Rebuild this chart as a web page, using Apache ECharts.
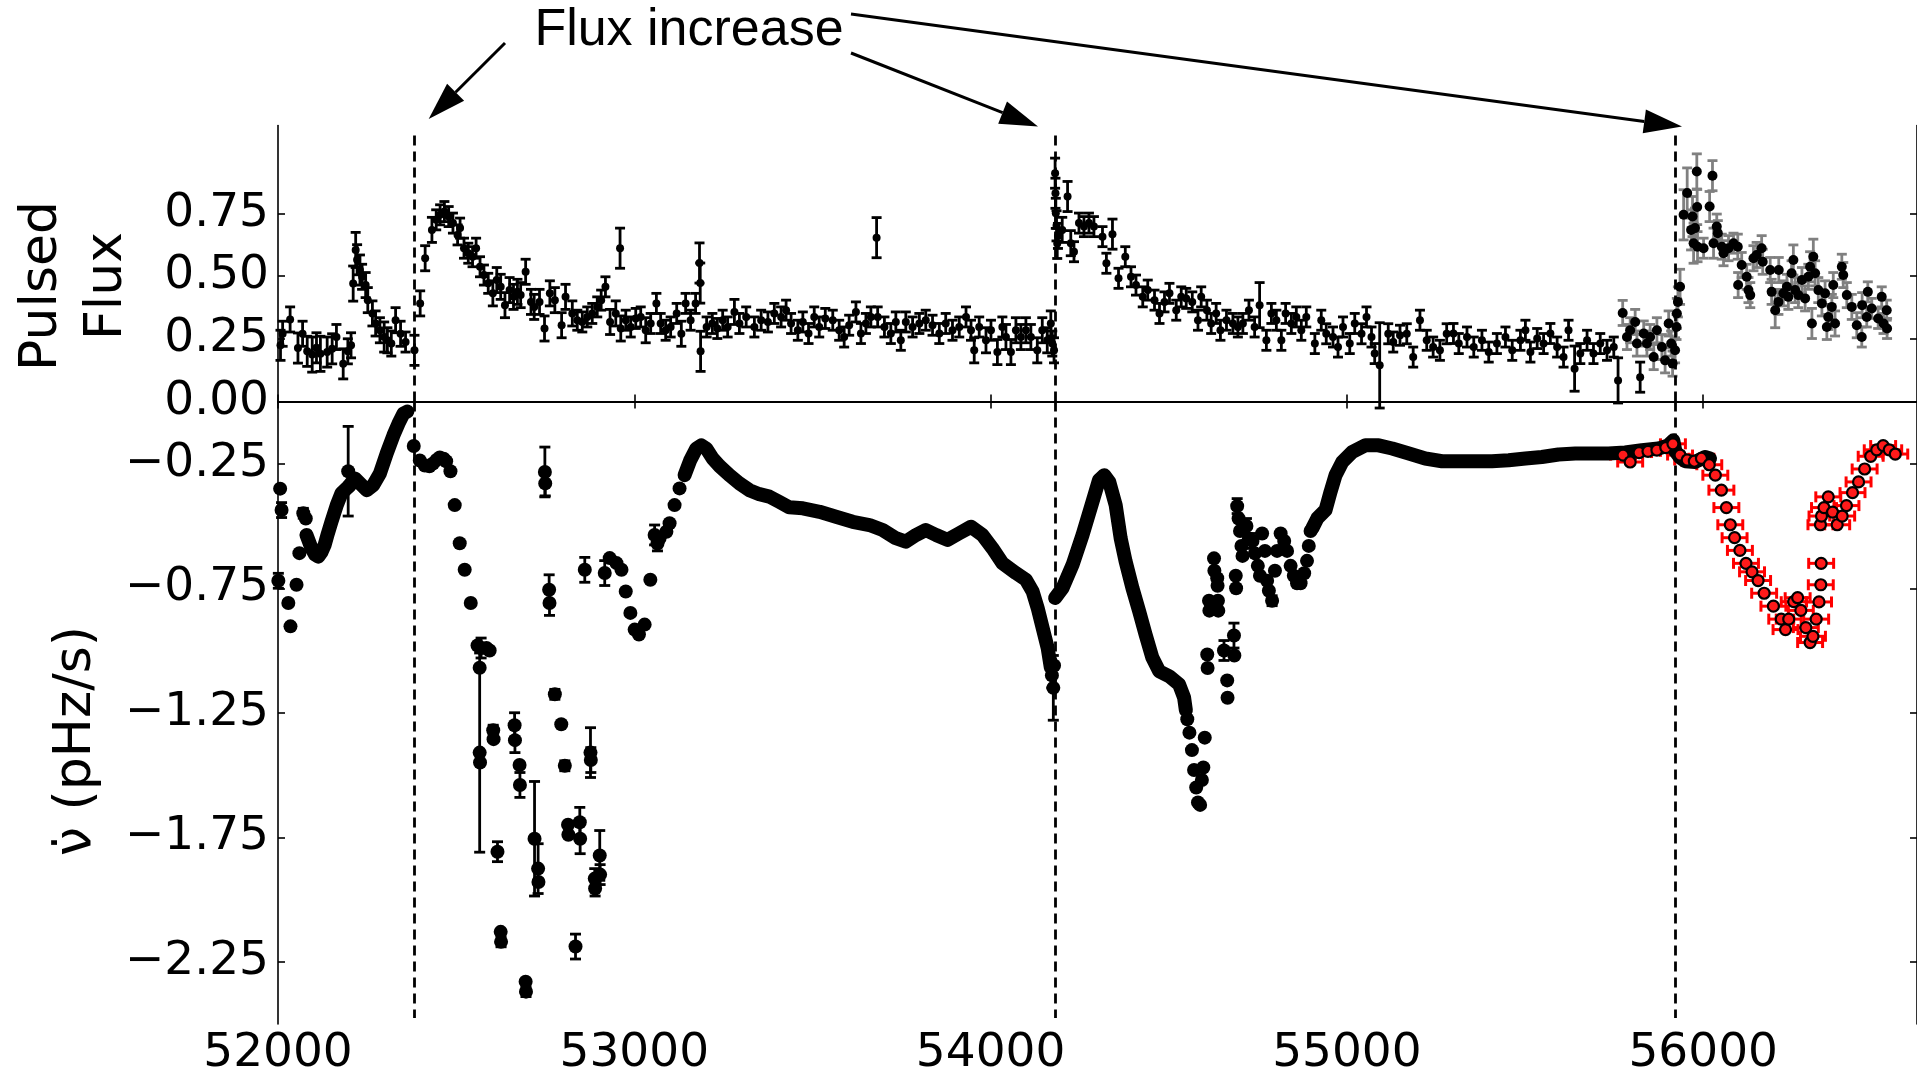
<!DOCTYPE html>
<html><head><meta charset="utf-8">
<script src="https://cdn.jsdelivr.net/npm/echarts@6/dist/echarts.min.js"></script>
<style>html,body{margin:0;padding:0;background:#fff;}#c{width:1917px;height:1077px;}</style>
</head><body><div id="c"></div>
<script>
// ---------- tick values ----------
const xTicks = [52000, 53000, 54000, 55000, 56000];
const fluxTicks = [0, 0.25, 0.5, 0.75];
const nudotTicks = [-0.25, -0.75, -1.25, -1.75, -2.25];
// flux increase epochs (MJD)
const glitchMJD = [52383, 54181, 55921];

// ---------- Pulsed flux, black error bars: [MJD, flux, err] ----------
const fluxA = [
[52007,0.224,0.06],[52013,0.27,0.05],[52034,0.327,0.05],[52056,0.213,0.06],[52069,0.27,0.05],[52082,0.2,0.06],[52096,0.187,0.07],[52108,0.214,0.06],[52119,0.19,0.07],[52138,0.197,0.06],[52152,0.21,0.06],[52164,0.257,0.05],[52183,0.15,0.06],[52196,0.2,0.05],[52205,0.224,0.05],[52211,0.47,0.07],[52218,0.604,0.07],[52222,0.565,0.06],[52230,0.524,0.06],[52236,0.497,0.05],[52246,0.464,0.05],[52252,0.404,0.05],[52265,0.351,0.05],[52274,0.311,0.05],[52286,0.284,0.05],[52298,0.257,0.06],[52307,0.244,0.05],[52318,0.231,0.05],[52330,0.324,0.05],[52344,0.27,0.05],[52358,0.237,0.04],[52383,0.204,0.06],
[52399,0.391,0.05],[52413,0.571,0.05],[52432,0.684,0.05],[52444,0.724,0.04],[52455,0.744,0.04],[52467,0.757,0.04],[52479,0.737,0.04],[52491,0.711,0.04],[52504,0.664,0.04],[52511,0.691,0.04],[52522,0.611,0.04],[52534,0.591,0.04],[52546,0.577,0.04],[52556,0.611,0.04],[52567,0.537,0.04],[52578,0.504,0.04],[52590,0.471,0.04],[52603,0.431,0.05],[52614,0.484,0.05],[52625,0.457,0.05],[52637,0.384,0.05],[52650,0.444,0.05],[52661,0.417,0.05],[52672,0.437,0.05],[52681,0.424,0.05],[52695,0.517,0.05],[52710,0.397,0.05],[52719,0.377,0.05],[52734,0.397,0.05],[52748,0.291,0.05],[52763,0.431,0.05],[52777,0.404,0.05],[52796,0.304,0.05],[52807,0.417,0.05],[52826,0.351,0.05],[52840,0.324,0.04],[52854,0.317,0.04],[52868,0.337,0.04],[52882,0.351,0.04],[52896,0.377,0.04],[52907,0.404,0.04],[52919,0.457,0.04],[52932,0.317,0.05],[52948,0.351,0.05],[52960,0.611,0.08],[52962,0.291,0.05],[52976,0.324,0.04],[52990,0.297,0.04],[53004,0.331,0.04],[53018,0.337,0.04],[53032,0.284,0.05],[53046,0.311,0.04],[53062,0.391,0.04],[53074,0.311,0.04],[53088,0.284,0.04],[53102,0.297,0.04],[53119,0.351,0.04],[53132,0.27,0.05],[53144,0.391,0.04],[53158,0.324,0.04],[53172,0.391,0.04],[53183,0.552,0.08],[53185,0.472,0.08],[53186,0.2,0.08],[53203,0.297,0.04],[53219,0.311,0.04],[53233,0.291,0.04],
[53248,0.324,0.04],[53262,0.297,0.04],[53281,0.357,0.05],[53295,0.311,0.04],[53314,0.337,0.04],[53337,0.297,0.04],[53356,0.324,0.04],[53375,0.317,0.04],[53393,0.351,0.04],[53412,0.337,0.04],[53426,0.364,0.04],[53440,0.311,0.04],[53459,0.284,0.04],[53473,0.317,0.04],[53489,0.271,0.04],[53505,0.337,0.04],[53519,0.297,0.04],[53536,0.331,0.04],[53557,0.324,0.04],[53575,0.284,0.04],[53589,0.257,0.04],[53603,0.304,0.04],[53622,0.357,0.04],[53636,0.271,0.04],[53650,0.311,0.04],[53664,0.337,0.04],[53680,0.653,0.08],[53683,0.337,0.04],[53702,0.297,0.04],[53720,0.271,0.04],[53734,0.317,0.04],[53748,0.244,0.04],[53762,0.317,0.04],[53781,0.297,0.04],[53800,0.311,0.04],[53818,0.324,0.04],[53837,0.304,0.04],[53856,0.271,0.04],[53874,0.311,0.04],[53893,0.284,0.04],[53912,0.297,0.04],[53931,0.337,0.04],[53945,0.284,0.04],[53954,0.204,0.05],[53968,0.297,0.04],[53987,0.244,0.05],[54001,0.284,0.04],[54019,0.197,0.05],[54033,0.297,0.04],[54043,0.257,0.05],[54057,0.197,0.05],[54071,0.284,0.05],[54085,0.257,0.05],[54099,0.284,0.05],[54113,0.257,0.05],[54131,0.204,0.05],[54145,0.284,0.05],[54159,0.244,0.05],[54169,0.311,0.05],[54173,0.231,0.05],[54178,0.204,0.05],
[54181,0.91,0.06],[54182,0.83,0.06],[54183,0.75,0.06],[54185,0.70,0.06],[54187,0.63,0.06],[54189,0.66,0.05],[54201,0.684,0.05],[54216,0.817,0.06],[54225,0.631,0.05],[54234,0.597,0.04],[54248,0.711,0.04],[54262,0.697,0.04],[54276,0.711,0.04],[54290,0.697,0.04],[54314,0.657,0.04],[54325,0.551,0.04],[54342,0.667,0.06],[54359,0.491,0.04],[54378,0.577,0.04],[54394,0.497,0.04],[54408,0.464,0.04],[54427,0.417,0.04],[54441,0.444,0.04],[54460,0.404,0.04],[54474,0.351,0.04],[54488,0.397,0.04],[54502,0.431,0.04],[54521,0.364,0.04],[54535,0.417,0.04],[54549,0.411,0.04],[54566,0.397,0.04],[54582,0.324,0.04],[54591,0.417,0.04],[54607,0.364,0.04],[54619,0.311,0.04],[54633,0.351,0.04],[54645,0.284,0.04],[54662,0.324,0.04],[54680,0.311,0.04],[54694,0.297,0.04],[54708,0.311,0.04],[54725,0.364,0.04],[54741,0.297,0.04],[54755,0.384,0.09],[54774,0.244,0.04],[54788,0.351,0.04],[54802,0.324,0.04],[54816,0.244,0.04],[54828,0.351,0.04],[54844,0.311,0.04],[54858,0.337,0.04],[54872,0.284,0.04],[54886,0.337,0.04],[54910,0.231,0.04],[54928,0.324,0.04],[54942,0.27,0.04],[54961,0.257,0.04],[54975,0.217,0.04],[54989,0.297,0.04],[55008,0.231,0.04],[55022,0.311,0.04],[55041,0.27,0.04],[55055,0.337,0.04],[55069,0.257,0.04],[55078,0.191,0.04],[55092,0.144,0.17],[55116,0.27,0.04],[55130,0.237,0.04],[55149,0.264,0.04],[55168,0.27,0.04],[55186,0.177,0.04],[55205,0.324,0.04],[55224,0.244,0.04],[55242,0.217,0.04],[55261,0.204,0.04],[55280,0.27,0.04],[55299,0.271,0.04],[55314,0.231,0.04],[55337,0.257,0.04],[55356,0.217,0.04],[55379,0.244,0.04],[55398,0.197,0.04],[55421,0.231,0.04],[55445,0.257,0.04],[55464,0.204,0.04],[55487,0.244,0.04],[55501,0.284,0.04],[55515,0.197,0.04],[55534,0.251,0.04],[55552,0.231,0.04],[55571,0.271,0.04],[55590,0.217,0.04],[55608,0.177,0.04],[55622,0.284,0.04],[55639,0.131,0.09],[55655,0.191,0.04],[55674,0.244,0.04],[55692,0.191,0.04],[55711,0.231,0.04],[55730,0.204,0.04],[55749,0.217,0.04],[55761,0.084,0.09],[55823,0.097,0.06]
];

// ---------- Pulsed flux, grey error bars: [MJD, flux, err] ----------
const fluxB = [
[55774,0.353,0.05],[55786,0.257,0.05],[55795,0.284,0.05],[55809,0.317,0.05],[55814,0.231,0.05],[55833,0.271,0.05],[55842,0.231,0.05],[55851,0.257,0.05],[55861,0.177,0.05],[55870,0.284,0.05],[55884,0.217,0.05],[55893,0.164,0.05],[55903,0.311,0.05],[55910,0.231,0.05],[55914,0.151,0.05],[55921,0.204,0.05],[55925,0.297,0.05],[55926,0.351,0.06],[55929,0.397,0.06],[55935,0.457,0.07],
[55945,0.744,0.1],[55955,0.831,0.1],[55966,0.684,0.08],[55970,0.737,0.08],[55973,0.631,0.08],[55977,0.691,0.08],[55982,0.917,0.07],[55983,0.775,0.07],[55984,0.617,0.06],[56001,0.611,0.04],[56018,0.777,0.06],[56026,0.9,0.06],[56029,0.631,0.06],[56038,0.697,0.05],[56041,0.671,0.05],[56052,0.617,0.05],[56057,0.591,0.05],[56071,0.611,0.05],[56085,0.631,0.04],[56097,0.617,0.05],[56098,0.464,0.05],[56108,0.544,0.05],[56122,0.497,0.05],[56127,0.444,0.05],[56132,0.424,0.05],[56141,0.571,0.05],[56150,0.584,0.05],[56164,0.611,0.05],[56167,0.557,0.05],[56188,0.524,0.05],[56192,0.437,0.05],[56202,0.364,0.07],[56211,0.397,0.05],[56212,0.524,0.05],[56225,0.431,0.05],[56235,0.457,0.05],[56239,0.417,0.05],[56248,0.511,0.05],[56253,0.564,0.06],[56258,0.444,0.05],[56267,0.424,0.05],[56277,0.484,0.05],[56286,0.411,0.05],[56295,0.497,0.05],[56300,0.537,0.06],[56305,0.311,0.06],[56309,0.577,0.07],[56314,0.511,0.05],[56323,0.444,0.05],[56333,0.391,0.05],[56342,0.431,0.05],[56347,0.297,0.05],[56351,0.337,0.05],[56361,0.377,0.05],[56365,0.464,0.05],[56370,0.311,0.05],[56389,0.537,0.05],[56393,0.504,0.05],[56403,0.424,0.05],[56417,0.377,0.05],[56431,0.304,0.05],[56445,0.257,0.04],[56446,0.384,0.05],[56459,0.337,0.04],[56462,0.437,0.04],[56473,0.371,0.04],[56491,0.331,0.04],[56501,0.417,0.04],[56506,0.311,0.04],[56515,0.364,0.04],[56516,0.291,0.04]
];

// ---------- nu-dot, densely sampled stretches: [MJD, pHz/s] ----------
const nudotCurve1 = [[52080,-0.536],[52094,-0.589],[52104,-0.615],[52113,-0.623],[52122,-0.605],[52131,-0.576],[52140,-0.53],[52150,-0.483],[52165,-0.416],[52178,-0.369],[52197,-0.343],[52216,-0.309],[52230,-0.329],[52249,-0.356],[52267,-0.336],[52286,-0.289],[52305,-0.209],[52324,-0.136],[52338,-0.089],[52352,-0.049],[52363,-0.04]];
const nudotCurve2 = [[53141,-0.296],[53157,-0.236],[53174,-0.189],[53188,-0.176],[53202,-0.189],[53220,-0.229],[53239,-0.259],[53267,-0.296],[53295,-0.329],[53323,-0.356],[53351,-0.372],[53379,-0.382],[53407,-0.403],[53435,-0.425],[53473,-0.429],[53520,-0.443],[53566,-0.463],[53613,-0.483],[53660,-0.496],[53697,-0.516],[53734,-0.549],[53762,-0.563],[53791,-0.536],[53818,-0.516],[53847,-0.536],[53879,-0.556],[53912,-0.529],[53945,-0.503],[53977,-0.536],[54005,-0.589],[54033,-0.649],[54071,-0.689],[54099,-0.716],[54118,-0.763],[54132,-0.829],[54146,-0.909],[54160,-0.989],[54169,-1.069]];
const nudotCurve3 = [[54181,-0.789],[54202,-0.749],[54230,-0.656],[54258,-0.536],[54286,-0.403],[54304,-0.316],[54319,-0.296],[54333,-0.323],[54351,-0.416],[54365,-0.549],[54379,-0.643],[54398,-0.749],[54417,-0.843],[54435,-0.936],[54454,-1.029],[54473,-1.083],[54501,-1.103],[54529,-1.136],[54543,-1.189],[54548,-1.24]];
const nudotCurve4 = [[54903,-0.509],[54917,-0.469],[54940,-0.436],[54954,-0.363],[54968,-0.296],[54987,-0.243],[55015,-0.203],[55052,-0.176],[55089,-0.176],[55127,-0.189],[55174,-0.209],[55220,-0.229],[55267,-0.24],[55314,-0.24],[55360,-0.24],[55407,-0.24],[55454,-0.236],[55501,-0.229],[55547,-0.223],[55594,-0.213],[55641,-0.209],[55688,-0.209],[55734,-0.209],[55781,-0.205],[55828,-0.196],[55874,-0.189],[55902,-0.176],[55916,-0.156],[55922,-0.2],[55935,-0.225],[55950,-0.24],[55977,-0.243],[56005,-0.223],[56019,-0.229]];

// ---------- nu-dot, individual black points: [MJD, pHz/s, err] ----------
const nudotPts = [
[52001,-0.72,0.03],[52006,-0.35,0],[52010,-0.436,0.03],[52029,-0.809,0],[52035,-0.903,0.01],[52052,-0.736,0],[52060,-0.609,0],[52071,-0.449,0.02],[52078,-0.47,0],
[52197,-0.28,0.18],[52200,-0.34,0],
[52381,-0.179,0],[52398,-0.237,0],[52412,-0.257,0],[52425,-0.26,0],[52435,-0.249,0],[52445,-0.235,0],[52454,-0.225,0],[52465,-0.23,0],[52472,-0.24,0],[52484,-0.28,0],[52496,-0.416,0],[52510,-0.569,0],[52524,-0.676,0],[52541,-0.809,0],[52560,-0.98,0],[52570,-0.99,0.04],[52585,-0.99,0],[52594,-1.0,0],[52566,-1.069,0],[52566,-1.41,0.4],[52567,-1.45,0],
[52604,-1.32,0.02],[52605,-1.356,0],[52616,-1.808,0.04],[52625,-2.13,0],[52626,-2.17,0.02],[52664,-1.30,0.05],[52665,-1.36,0.05],[52678,-1.46,0],[52679,-1.54,0.05],[52695,-2.33,0],[52696,-2.37,0.02],[52720,-1.756,0.23],[52730,-1.876,0.1],[52731,-1.93,0],[52749,-0.283,0.1],[52750,-0.329,0.05],[52761,-0.756,0.06],[52762,-0.809,0.05],[52777,-1.176,0.02],[52795,-1.296,0],[52805,-1.463,0.02],[52814,-1.70,0],[52815,-1.74,0],[52835,-2.189,0.05],[52847,-1.69,0.06],[52848,-1.756,0.06],[52861,-0.676,0.05],[52877,-1.41,0.1],[52878,-1.44,0.05],[52889,-1.916,0.04],[52890,-1.956,0.03],[52903,-1.823,0.1],[52904,-1.90,0.04],
[52917,-0.689,0.05],[52931,-0.629,0],[52950,-0.649,0],[52964,-0.676,0],[52976,-0.763,0],[52989,-0.849,0],[53001,-0.916,0],[53013,-0.936,0],[53029,-0.896,0],[53045,-0.716,0],[53057,-0.536,0.04],[53065,-0.57,0.03],[53071,-0.549,0],[53090,-0.523,0],[53099,-0.489,0],[53113,-0.416,0],[53127,-0.349,0],
[54172,-1.1,0.05],[54176,-1.15,0.13],[54178,-1.06,0],
[54552,-1.276,0],[54558,-1.33,0],[54565,-1.40,0],[54571,-1.48,0],[54577,-1.55,0],[54582,-1.61,0],[54588,-1.62,0],[54593,-1.52,0],[54597,-1.47,0],[54601,-1.35,0],
[54608,-1.016,0],[54609,-1.07,0],[54613,-0.80,0],[54614,-0.84,0],[54627,-0.63,0],[54628,-0.68,0],[54636,-0.71,0],[54637,-0.74,0],[54638,-0.80,0],[54639,-0.84,0],[54655,-1.0,0.04],[54664,-1.12,0],[54665,-1.19,0],[54683,-0.94,0.05],[54684,-1.02,0],[54688,-0.70,0],[54689,-0.75,0],[54692,-0.42,0.03],[54696,-0.47,0],[54700,-0.52,0],[54704,-0.58,0],[54707,-0.62,0],[54718,-0.50,0.03],[54725,-0.55,0],[54735,-0.56,0.03],[54742,-0.61,0],[54750,-0.66,0],[54756,-0.70,0],[54762,-0.53,0],[54770,-0.60,0],[54776,-0.72,0],[54781,-0.76,0],[54790,-0.80,0.02],[54798,-0.68,0],[54804,-0.60,0],[54814,-0.53,0],[54824,-0.56,0],[54832,-0.60,0],[54842,-0.66,0],[54851,-0.70,0],[54860,-0.73,0],[54870,-0.73,0],[54880,-0.69,0],[54888,-0.64,0],[54893,-0.58,0],[54898,-0.52,0]
];

// ---------- nu-dot, red points: [MJD, pHz/s, MJD err] ----------
const nudotRed = [
[55775,-0.215,35],[55795,-0.243,35],[55820,-0.205,35],[55845,-0.2,35],[55870,-0.195,35],[55895,-0.185,35],[55915,-0.17,35],[55935,-0.215,35],[55955,-0.235,35],[55975,-0.24,35],[55995,-0.228,35],[56017,-0.254,35],[56034,-0.296,35],[56051,-0.356,35],[56065,-0.426,35],[56076,-0.495,35],[56088,-0.547,35],[56103,-0.598,35],[56120,-0.65,35],[56137,-0.684,35],[56154,-0.719,35],[56171,-0.77,35],[56197,-0.822,35],[56219,-0.874,35],[56231,-0.916,35],[56240,-0.874,35],[56254,-0.804,35],[56265,-0.788,35],[56274,-0.839,35],[56288,-0.908,35],[56300,-0.968,35],[56308,-0.943,35],[56317,-0.874,35],[56325,-0.805,35],[56330,-0.736,35],[56331,-0.65,35],[56329,-0.495,35],[56332,-0.46,35],[56339,-0.426,35],[56351,-0.383,35],[56363,-0.444,35],[56376,-0.495,35],[56390,-0.46,35],[56402,-0.418,35],[56419,-0.366,35],[56436,-0.323,35],[56453,-0.271,35],[56470,-0.22,35],[56487,-0.194,35],[56505,-0.177,35],[56522,-0.194,35],[56539,-0.211,35]
];

// ---------- rendering ----------
const FONT = 'DejaVu Sans';
function vErr(color, cap, lw) {
  return function (params, api) {
    const x = api.value(0), y = api.value(1), e = api.value(2);
    if (!(e > 0)) return {type: 'group', children: []};
    const a = api.coord([x, y + e]), b = api.coord([x, y - e]);
    const s = () => ({stroke: color, lineWidth: lw});
    return {type: 'group', children: [
      {type: 'line', shape: {x1: a[0], y1: a[1], x2: b[0], y2: b[1]}, style: s()},
      {type: 'line', shape: {x1: a[0] - cap, y1: a[1], x2: a[0] + cap, y2: a[1]}, style: s()},
      {type: 'line', shape: {x1: b[0] - cap, y1: b[1], x2: b[0] + cap, y2: b[1]}, style: s()}
    ]};
  };
}
function hErr(color, cap, lw) {
  return function (params, api) {
    const x = api.value(0), y = api.value(1), e = api.value(2);
    const a = api.coord([x - e, y]), b = api.coord([x + e, y]);
    const s = () => ({stroke: color, lineWidth: lw});
    return {type: 'group', children: [
      {type: 'line', shape: {x1: a[0], y1: a[1], x2: b[0], y2: b[1]}, style: s()},
      {type: 'line', shape: {x1: a[0], y1: a[1] - cap, x2: a[0], y2: a[1] + cap}, style: s()},
      {type: 'line', shape: {x1: b[0], y1: b[1] - cap, x2: b[0], y2: b[1] + cap}, style: s()}
    ]};
  };
}

const axisLineStyle = {show: true, lineStyle: {color: '#000', width: 1.6}};
const tickStyle = (vals) => ({show: true, inside: true, length: 7, lineStyle: {color: '#000', width: 1.6}, customValues: vals});
const labelStyle = {color: '#000', fontFamily: FONT, fontSize: 47};

const dashStyle = {color: '#000', width: 2.8, type: [10, 6], opacity: 1};

const chart = echarts.init(document.getElementById('c'), null, {renderer: 'canvas'});
const option = {
  animation: false,
  backgroundColor: '#fff',
  grid: [
    {left: 278, top: 125.5, width: 1641, height: 276},
    {left: 278, top: 401.5, width: 1641, height: 625.5}
  ],
  xAxis: [
    {type: 'value', gridIndex: 0, position: 'bottom', min: 52000, max: 56600, axisLine: axisLineStyle, axisTick: {show: false}, axisLabel: {show: false}, splitLine: {show: false}},
    {type: 'value', gridIndex: 0, position: 'top', min: 52000, max: 56600, axisLine: axisLineStyle, axisTick: tickStyle(xTicks), axisLabel: {show: false}, splitLine: {show: false}},
    {type: 'value', gridIndex: 1, position: 'bottom', min: 52000, max: 56600, axisLine: axisLineStyle, axisTick: tickStyle(xTicks),
      axisLabel: Object.assign({show: true, margin: 6, customValues: xTicks, formatter: v => String(v)}, labelStyle), splitLine: {show: false}},
    {type: 'value', gridIndex: 1, position: 'top', min: 52000, max: 56600, axisLine: axisLineStyle, axisTick: {show: false}, axisLabel: {show: false}, splitLine: {show: false}}
  ],
  yAxis: [
    {type: 'value', gridIndex: 0, position: 'left', min: 0, max: 1.1, axisLine: axisLineStyle, axisTick: tickStyle(fluxTicks),
      axisLabel: Object.assign({show: true, margin: 9, customValues: fluxTicks, formatter: v => v.toFixed(2)}, labelStyle), splitLine: {show: false}},
    {type: 'value', gridIndex: 0, position: 'right', min: 0, max: 1.1, axisLine: axisLineStyle, axisTick: tickStyle(fluxTicks), axisLabel: {show: false}, splitLine: {show: false}},
    {type: 'value', gridIndex: 1, position: 'left', min: -2.5, max: 0, axisLine: axisLineStyle, axisTick: tickStyle(nudotTicks),
      axisLabel: Object.assign({show: true, margin: 9, customValues: nudotTicks, formatter: v => '\u2212' + Math.abs(v).toFixed(2)}, labelStyle), splitLine: {show: false}},
    {type: 'value', gridIndex: 1, position: 'right', min: -2.5, max: 0, axisLine: axisLineStyle, axisTick: tickStyle(nudotTicks), axisLabel: {show: false}, splitLine: {show: false}}
  ],
  series: [
    // top panel
    {type: 'custom', name: 'flux err', xAxisIndex: 0, yAxisIndex: 0, data: fluxA, encode: {x: 0, y: 1}, renderItem: vErr('#000', 5, 2.8), silent: true, z: 2},
    {type: 'scatter', name: 'Pulsed flux', xAxisIndex: 0, yAxisIndex: 0, data: fluxA, encode: {x: 0, y: 1}, symbol: 'circle', symbolSize: 8, itemStyle: {color: '#000', opacity: 1}, z: 3,
      markLine: {silent: true, symbol: ['none', 'none'], label: {show: false}, lineStyle: dashStyle,
        data: glitchMJD.map(m => [{coord: [m, 1.06]}, {coord: [m, 0]}])}},
    {type: 'custom', name: 'flux err 2', xAxisIndex: 0, yAxisIndex: 0, data: fluxB, encode: {x: 0, y: 1}, renderItem: vErr('#808080', 5, 2.8), silent: true, z: 2},
    {type: 'scatter', name: 'Pulsed flux 2', xAxisIndex: 0, yAxisIndex: 0, data: fluxB, encode: {x: 0, y: 1}, symbol: 'circle', symbolSize: 10, itemStyle: {color: '#000', opacity: 1}, z: 3},
    // bottom panel
    {type: 'custom', name: 'red err', xAxisIndex: 2, yAxisIndex: 2, data: nudotRed, encode: {x: 0, y: 1}, renderItem: hErr('#ff0000', 5.5, 3), silent: true, z: 2},
    ...[nudotCurve1, nudotCurve2, nudotCurve3, nudotCurve4].map((d, i) => ({
      type: 'line', name: 'nudot ' + (i + 1), xAxisIndex: 2, yAxisIndex: 2, data: d, symbol: 'none', showSymbol: false,
      lineStyle: {color: '#000', width: 14, cap: 'round', join: 'round', opacity: 1}, z: 3})),
    {type: 'custom', name: 'nudot err', xAxisIndex: 2, yAxisIndex: 2, data: nudotPts, encode: {x: 0, y: 1}, renderItem: vErr('#000', 5.5, 2.8), silent: true, z: 3},
    {type: 'scatter', name: 'nudot points', xAxisIndex: 2, yAxisIndex: 2, data: nudotPts, encode: {x: 0, y: 1}, symbol: 'circle', symbolSize: 14, itemStyle: {color: '#000', opacity: 1}, z: 4,
      markLine: {silent: true, symbol: ['none', 'none'], label: {show: false}, lineStyle: dashStyle,
        data: glitchMJD.map(m => [{coord: [m, 0]}, {coord: [m, -2.476]}])}},
    {type: 'scatter', name: 'nudot red', xAxisIndex: 2, yAxisIndex: 2, data: nudotRed, encode: {x: 0, y: 1}, symbol: 'circle', symbolSize: 11,
      itemStyle: {color: '#ff1a1a', borderColor: '#000', borderWidth: 2.2, opacity: 1}, z: 5}
  ],
  graphic: [
    {type: 'text', x: 689, y: 31, z: 10, style: {text: 'Flux increase', fontFamily: 'Liberation Sans', fontSize: 52, fill: '#000',
      align: 'center', verticalAlign: 'middle', textAlign: 'center', textVerticalAlign: 'middle'}},
    {type: 'text', x: 75, y: 286, rotation: Math.PI / 2, z: 10, style: {text: 'Pulsed\nFlux', fontFamily: FONT, fontSize: 52, lineHeight: 65, fill: '#000',
      align: 'center', verticalAlign: 'middle', textAlign: 'center', textVerticalAlign: 'middle'}},
    {type: 'text', x: 76, y: 741, rotation: Math.PI / 2, z: 10, style: {text: '\u03BD\u0307 (pHz/s)', fontFamily: FONT, fontSize: 52, fill: '#000',
      align: 'center', verticalAlign: 'middle', textAlign: 'center', textVerticalAlign: 'middle'}},
    // arrows
    {type: 'line', z: 10, shape: {x1: 505, y1: 43, x2: 455.6, y2: 92.2}, style: {stroke: '#000', lineWidth: 3}},
    {type: 'polygon', z: 10, shape: {points: [[428.7, 119], [464.1, 100.7], [447.1, 83.7]]}, style: {fill: '#000'}},
    {type: 'line', z: 10, shape: {x1: 851, y1: 53, x2: 1002.6, y2: 112.6}, style: {stroke: '#000', lineWidth: 3}},
    {type: 'polygon', z: 10, shape: {points: [[1038, 126.5], [998.2, 123.8], [1007, 101.4]]}, style: {fill: '#000'}},
    {type: 'line', z: 10, shape: {x1: 851, y1: 14, x2: 1644.3, y2: 121.4}, style: {stroke: '#000', lineWidth: 3}},
    {type: 'polygon', z: 10, shape: {points: [[1682, 126.5], [1642.7, 133.3], [1645.9, 109.5]]}, style: {fill: '#000'}}
  ]
};
chart.setOption(option);
</script></body></html>
